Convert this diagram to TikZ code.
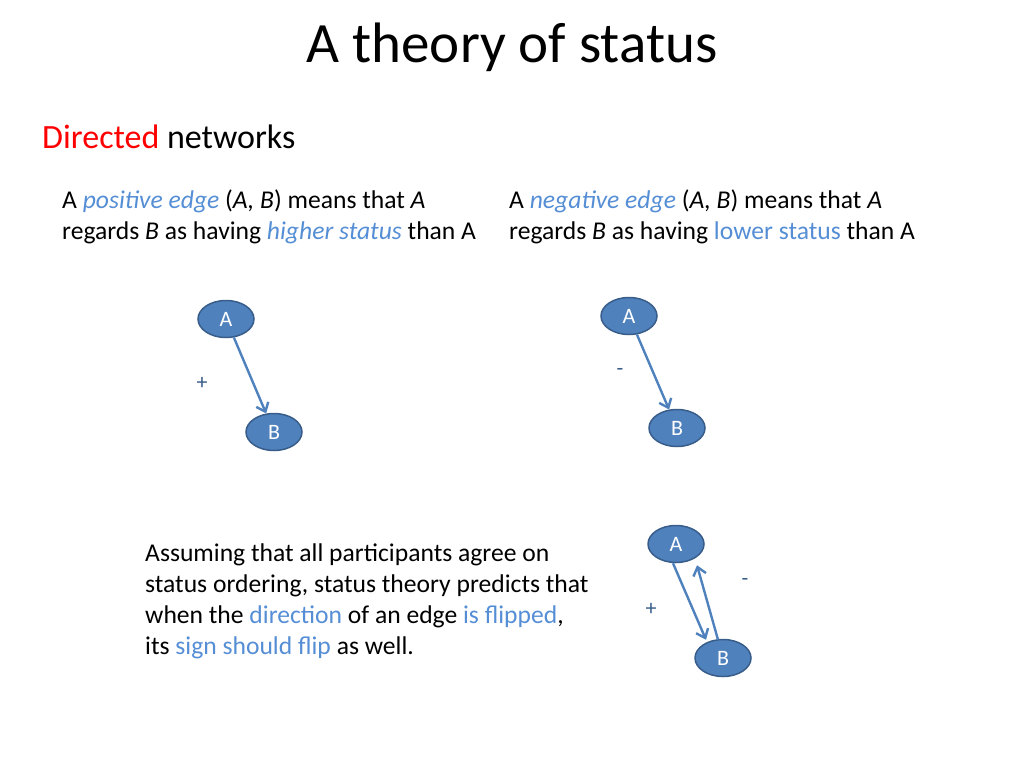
\documentclass[tikz,border=0pt]{standalone}
\usepackage{fontspec}
\setmainfont{Carlito}
\usetikzlibrary{shapes.geometric, arrows.meta}
\definecolor{nodefill}{HTML}{4F81BD}
\definecolor{nodeline}{HTML}{385D8A}
\definecolor{hl}{HTML}{558ED5}
\begin{document}
\begin{tikzpicture}[x=1pt, y=-1pt,
    vertex/.style={ellipse, draw=nodeline, fill=nodefill, line width=1.5pt, minimum width=56pt, minimum height=37pt, inner sep=0pt, text=white, font=\fontsize{22}{22}\selectfont},
    link/.style={draw=nodefill, line width=2.4pt, -{Straight Barb[length=8pt, width=13pt]}},
    txt/.style={anchor=base west, inner sep=0pt, font=\fontsize{25.6}{25.6}\selectfont},
    sgn/.style={inner sep=0pt, text=nodeline, font=\fontsize{22}{22}\selectfont}]
    \useasboundingbox (0,0) rectangle (1024,768);
    % title and heading
    \node (title) at (512,47) {\fontsize{57}{57}\selectfont A theory of status};
    \node[txt, font=\fontsize{34}{34}\selectfont] (head) at (42,148) {\textcolor{red}{Directed} networks};
    % positive edge text
    \node[txt] (pos1) at (62,208) {A \textcolor{hl}{\itshape positive edge} (\textit{A, B}) means that \textit{A}};
    \node[txt] (pos2) at (62,239) {regards \textit{B} as having \textcolor{hl}{\itshape higher status} than A};
    % negative edge text
    \node[txt] (neg1) at (509,208) {A \textcolor{hl}{\itshape negative edge} (\textit{A, B}) means that \textit{A}};
    \node[txt] (neg2) at (509,239) {regards \textit{B} as having \textcolor{hl}{lower status} than A};
    % conclusion
    \node[txt] (con1) at (145,561) {Assuming that all participants agree on};
    \node[txt] (con2) at (145,592) {status ordering, status theory predicts that};
    \node[txt] (con3) at (145,623) {when the \textcolor{hl}{direction} of an edge \textcolor{hl}{is flipped},};
    \node[txt] (con4) at (145,654) {its \textcolor{hl}{sign should flip} as well.};
    % graphs
    \node[vertex] (a1) at (226,319) {A};
    \node[vertex] (b1) at (274,432) {B};
    \node[vertex] (a2) at (629,316) {A};
    \node[vertex] (b2) at (677,428) {B};
    \node[vertex] (a3) at (676,544) {A};
    \node[vertex] (b3) at (723,658) {B};
    \draw[link] (a1) -- (b1);
    \draw[link] (a2) -- (b2);
    \draw[link] ([xshift=-3pt]a3.south) -- ([xshift=-17pt,yshift=-1pt]b3.north);
    \draw[link] ([xshift=-5pt,yshift=-1pt]b3.north) -- ([xshift=21pt,yshift=-2pt]a3.south);
    \node[sgn] (p1) at (202,383) {+};
    \node[sgn] (m2) at (620,372) {-};
    \node[sgn] (p3) at (651,609) {+};
    \node[sgn] (m3) at (745,582) {-};
\end{tikzpicture}
\end{document}
